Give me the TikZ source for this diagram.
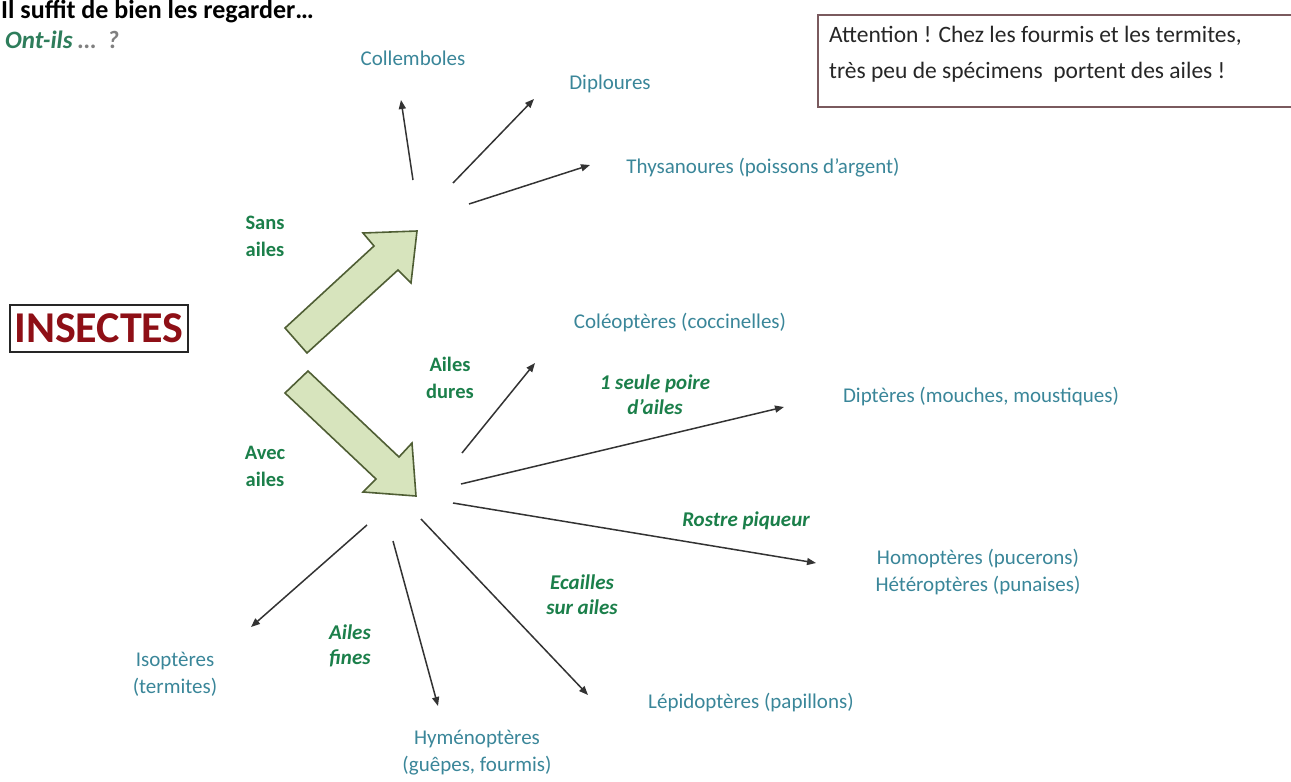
\documentclass[tikz,border=0pt]{standalone}
\usepackage{fontspec}
\setmainfont{Carlito}
\usetikzlibrary{arrows.meta}
\definecolor{taxon}{HTML}{3A8699}
\definecolor{lab}{HTML}{1B7F4A}
\definecolor{ontils}{HTML}{2E7D5B}
\definecolor{bigfill}{HTML}{D7E4BD}
\definecolor{bigdraw}{HTML}{4F5E34}
\definecolor{insred}{HTML}{8E0F16}
\definecolor{boxdraw}{HTML}{7A5A5E}
\tikzset{
  taxon/.style={text=taxon, font=\fontsize{21}{27}\selectfont, align=center, inner sep=0pt},
  lab/.style={text=lab, font=\fontsize{20.5}{27}\selectfont\bfseries, align=center, inner sep=0pt},
  labit/.style={text=lab, font=\fontsize{21}{25}\selectfont\bfseries\itshape, align=center, inner sep=0pt},
  thin/.style={draw=black!80, line width=1.5pt, -{Triangle[length=9pt,width=7pt]}},
  big/.style={fill=bigfill, draw=bigdraw, line width=1.6pt, line join=miter},
}
\begin{document}
\begin{tikzpicture}[x=1pt,y=-1pt]
\useasboundingbox (0,0) rectangle (1291,782);
% header
\node[anchor=west, inner sep=0pt, font=\fontsize{26}{28}\selectfont\bfseries] (title) at (1,12) {Il suffit de bien les regarder…};
\node[anchor=west, inner sep=0pt, font=\fontsize{25}{27}\selectfont\bfseries\itshape, text=ontils] (ont) at (5,40) {Ont-ils \textcolor{gray}{…\ \ ?}};
% attention box
\draw[boxdraw, line width=1.2pt] (818,15) rectangle (1296,107);
\node[anchor=west, inner sep=0pt, font=\fontsize{23.5}{26}\selectfont, text=black!85] (att1) at (829,36) {Attention ! Chez les fourmis et les termites,};
\node[anchor=west, inner sep=0pt, font=\fontsize{23.5}{26}\selectfont, text=black!85] (att2) at (829,72) {très peu de spécimens\ \ portent des ailes !};
% INSECTES
\node[draw=black!85, line width=1.3pt, text=insred, font=\fontsize{44}{46}\selectfont\bfseries, minimum width=178pt, minimum height=47pt, inner sep=0pt] (ins) at (99,328.5) {INSECTES};
% big arrows
\draw[big] (285,328) -- (374,246) -- (363,233) -- (417,231) -- (411,283) -- (398,270) -- (307,353) -- cycle;
\draw[big] (308,371) -- (399,457) -- (412,443) -- (416,496) -- (363,492) -- (376,479) -- (285,393) -- cycle;
% labels
\node[lab] (sans) at (265,236) {Sans\\ailes};
\node[lab] (avec) at (265,466) {Avec\\ailes};
\node[lab] (dures) at (450,378) {Ailes\\dures};
\node[labit] (paire) at (655,395) {1 seule poire\\d'ailes};
\node[labit] (rostre) at (746,521) {Rostre piqueur};
\node[labit] (ecailles) at (582,595) {Ecailles\\sur ailes};
\node[labit] (fines) at (350,646) {Ailes\\fines};
% taxa
\node[taxon] (coll) at (413,58) {Collemboles};
\node[taxon] (dipl) at (610,84) {Diploures};
\node[taxon] (thys) at (763,168) {Thysanoures (poissons d'argent)};
\node[taxon] (cole) at (680,323) {Coléoptères (coccinelles)};
\node[taxon] (dipt) at (981,397) {Diptères (mouches, moustiques)};
\node[taxon] (homo) at (978,572) {Homoptères (pucerons)\\Hétéroptères (punaises)};
\node[taxon] (lepi) at (751,703) {Lépidoptères (papillons)};
\node[taxon] (hyme) at (477,753) {Hyménoptères\\(guêpes, fourmis)};
\node[taxon] (isop) at (175,674) {Isoptères\\(termites)};
% connector ends
\coordinate (s1) at (413,180); \coordinate (e1) at (401,100);
\coordinate (s2) at (453,183); \coordinate (e2) at (534,99);
\coordinate (s3) at (469,204); \coordinate (e3) at (590,165);
\coordinate (s4) at (462,453); \coordinate (e4) at (535,363);
\coordinate (s5) at (461,484); \coordinate (e5) at (784,407);
\coordinate (s6) at (453,503); \coordinate (e6) at (816,563);
\coordinate (s7) at (421,519); \coordinate (e7) at (588,695);
\coordinate (s8) at (393,541); \coordinate (e8) at (438,706);
\coordinate (s9) at (367,525); \coordinate (e9) at (251,627);
\foreach \i in {1,...,9} \draw[thin] (s\i) -- (e\i);
\end{tikzpicture}
\end{document}
